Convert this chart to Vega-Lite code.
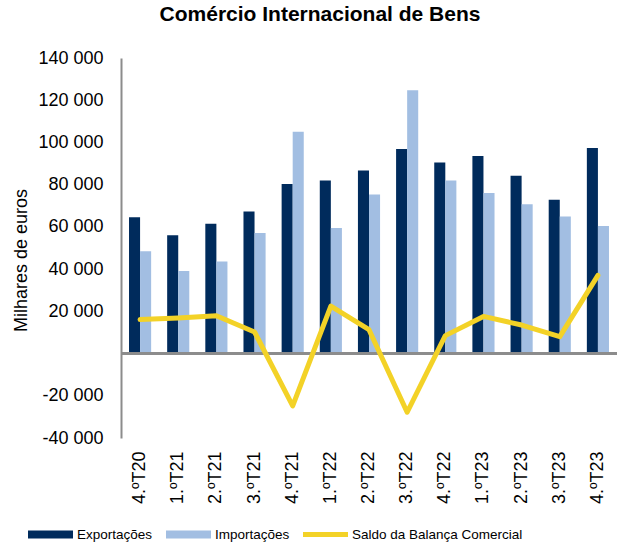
{
  "$schema": "https://vega.github.io/schema/vega-lite/v6.json",
  "width": 496,
  "height": 380,
  "autosize": {"type": "none"},
  "padding": {"left": 121, "top": 58, "right": 2, "bottom": 104},
  "background": "white",
  "config": {
    "font": "Liberation Sans",
    "view": {"stroke": null},
    "locale": {"number": {"decimal": ",", "thousands": " ", "grouping": [3], "currency": ["", " €"], "minus": "-"}}
  },
  "title": {
    "text": "Comércio Internacional de Bens",
    "fontSize": 21,
    "fontWeight": "bold",
    "font": "Liberation Sans",
    "color": "black",
    "anchor": "middle",
    "frame": "group",
    "dx": -49,
    "offset": 24
  },
  "data": {
    "values": [
      {"q": "4.ºT20", "serie": "Exportações", "valor": 64600},
      {"q": "1.ºT21", "serie": "Exportações", "valor": 56000},
      {"q": "2.ºT21", "serie": "Exportações", "valor": 61500},
      {"q": "3.ºT21", "serie": "Exportações", "valor": 67300},
      {"q": "4.ºT21", "serie": "Exportações", "valor": 80300},
      {"q": "1.ºT22", "serie": "Exportações", "valor": 82000},
      {"q": "2.ºT22", "serie": "Exportações", "valor": 86700},
      {"q": "3.ºT22", "serie": "Exportações", "valor": 96900},
      {"q": "4.ºT22", "serie": "Exportações", "valor": 90500},
      {"q": "1.ºT23", "serie": "Exportações", "valor": 93600},
      {"q": "2.ºT23", "serie": "Exportações", "valor": 84200},
      {"q": "3.ºT23", "serie": "Exportações", "valor": 72900},
      {"q": "4.ºT23", "serie": "Exportações", "valor": 97400},
      {"q": "4.ºT20", "serie": "Importações", "valor": 48500},
      {"q": "1.ºT21", "serie": "Importações", "valor": 39100},
      {"q": "2.ºT21", "serie": "Importações", "valor": 43600},
      {"q": "3.ºT21", "serie": "Importações", "valor": 57100},
      {"q": "4.ºT21", "serie": "Importações", "valor": 105100},
      {"q": "1.ºT22", "serie": "Importações", "valor": 59500},
      {"q": "2.ºT22", "serie": "Importações", "valor": 75400},
      {"q": "3.ºT22", "serie": "Importações", "valor": 124700},
      {"q": "4.ºT22", "serie": "Importações", "valor": 82000},
      {"q": "1.ºT23", "serie": "Importações", "valor": 76000},
      {"q": "2.ºT23", "serie": "Importações", "valor": 70700},
      {"q": "3.ºT23", "serie": "Importações", "valor": 64900},
      {"q": "4.ºT23", "serie": "Importações", "valor": 60400},
      {"q": "4.ºT20", "serie": "Saldo da Balança Comercial", "valor": 16100},
      {"q": "1.ºT21", "serie": "Saldo da Balança Comercial", "valor": 16900},
      {"q": "2.ºT21", "serie": "Saldo da Balança Comercial", "valor": 17900},
      {"q": "3.ºT21", "serie": "Saldo da Balança Comercial", "valor": 10200},
      {"q": "4.ºT21", "serie": "Saldo da Balança Comercial", "valor": -24800},
      {"q": "1.ºT22", "serie": "Saldo da Balança Comercial", "valor": 22500},
      {"q": "2.ºT22", "serie": "Saldo da Balança Comercial", "valor": 11300},
      {"q": "3.ºT22", "serie": "Saldo da Balança Comercial", "valor": -27800},
      {"q": "4.ºT22", "serie": "Saldo da Balança Comercial", "valor": 8500},
      {"q": "1.ºT23", "serie": "Saldo da Balança Comercial", "valor": 17600},
      {"q": "2.ºT23", "serie": "Saldo da Balança Comercial", "valor": 13500},
      {"q": "3.ºT23", "serie": "Saldo da Balança Comercial", "valor": 8000},
      {"q": "4.ºT23", "serie": "Saldo da Balança Comercial", "valor": 37000}
    ]
  },
  "encoding": {
    "x": {
      "field": "q",
      "type": "nominal",
      "sort": null,
      "scale": {"paddingInner": 0.42, "paddingOuter": 0.21},
      "axis": {
        "title": null,
        "domain": false,
        "ticks": false,
        "tickSize": 0,
        "labelAngle": -90,
        "labelAlign": "right",
        "labelBaseline": "middle",
        "labelPadding": 13,
        "labelFontSize": 18,
        "labelColor": "black",
        "labelFont": "Liberation Sans"
      }
    },
    "y": {
      "field": "valor",
      "type": "quantitative",
      "scale": {"domain": [-40000, 140000], "nice": false, "zero": false},
      "axis": {
        "title": "Milhares de euros",
        "titleFontSize": 18,
        "titleFontWeight": "normal",
        "titleColor": "black",
        "titleFont": "Liberation Sans",
        "titleX": -100,
        "titleY": 202,
        "titleAngle": -90,
        "titleAlign": "center",
        "titleBaseline": "middle",
        "values": [-40000, -20000, 0, 20000, 40000, 60000, 80000, 100000, 120000, 140000],
        "labelExpr": "datum.value == 0 ? '' : format(datum.value, ',')",
        "grid": false,
        "ticks": false,
        "tickSize": 0,
        "labelPadding": 18,
        "labelFontSize": 18,
        "labelColor": "black",
        "labelFont": "Liberation Sans",
        "domainColor": "#8c8c8c",
        "domainWidth": 2
      }
    }
  },
  "layer": [
    {
      "transform": [{"filter": "datum.serie != 'Saldo da Balança Comercial'"}],
      "mark": {"type": "bar"},
      "encoding": {
        "xOffset": {"field": "serie", "type": "nominal", "scale": {"domain": ["Exportações", "Importações"], "paddingInner": 0, "paddingOuter": 0}},
        "color": {
          "field": "serie",
          "type": "nominal",
          "scale": {
            "domain": ["Exportações", "Importações", "Saldo da Balança Comercial"],
            "range": ["#002B5C", "#A2BEE2", "#F3D227"]
          },
          "legend": {
            "title": null,
            "orient": "none",
            "legendX": -93,
            "legendY": 454,
            "direction": "horizontal",
            "labelFontSize": 13.5,
            "labelColor": "black",
            "labelFont": "Liberation Sans",
            "labelOffset": 4,
            "labelLimit": 400,
            "columnPadding": 13,
            "symbolSize": 2025,
            "symbolType": "M-1,-0.18H1V0.18H-1Z",
            "encode": {
              "symbols": {
                "update": {
                  "shape": {"signal": "datum.value == 'Saldo da Balança Comercial' ? 'M-1,-0.11H1V0.11H-1Z' : 'M-1,-0.18H1V0.18H-1Z'"},
                  "fill": {"scale": "color", "field": "value"},
                  "strokeWidth": {"value": 0},
                  "opacity": {"value": 1}
                }
              }
            }
          }
        }
      }
    },
    {
      "mark": {"type": "rule", "color": "#8c8c8c", "strokeWidth": 2},
      "encoding": {"y": {"datum": 0}, "x": null}
    },
    {
      "transform": [{"filter": "datum.serie == 'Saldo da Balança Comercial'"}],
      "mark": {"type": "line", "strokeWidth": 5, "strokeJoin": "round", "strokeCap": "round"},
      "encoding": {
        "color": {"field": "serie", "type": "nominal"}
      }
    }
  ]
}
